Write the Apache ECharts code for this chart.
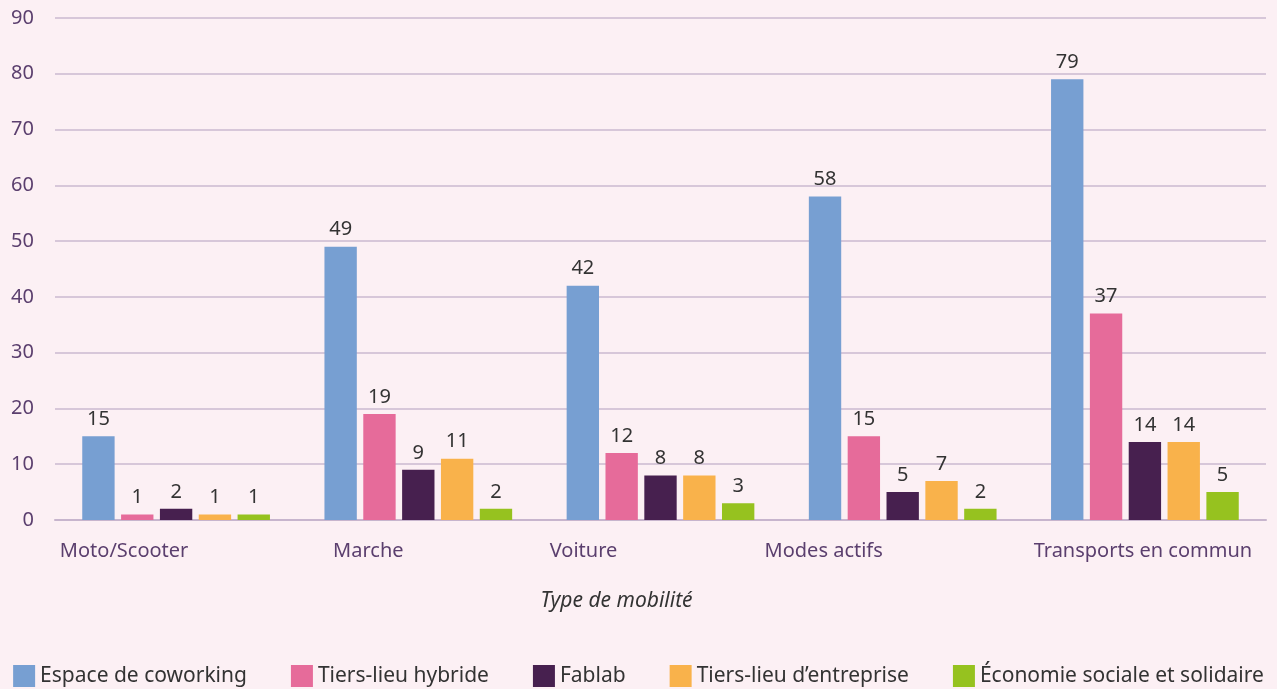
<!DOCTYPE html>
<html>
<head>
<meta charset="utf-8">
<script src="https://cdn.jsdelivr.net/npm/echarts@6/dist/echarts.min.js"></script>
<style>
html,body{margin:0;padding:0;background:#fcf0f4;}
#chart{width:1277px;height:689px;}
</style>
</head>
<body>
<div id="chart"></div>
<script>
const categories = ['Moto/Scooter', 'Marche', 'Voiture', 'Modes actifs', 'Transports en commun'];
const seriesNames = ['Espace de coworking', 'Tiers-lieu hybride', 'Fablab', 'Tiers-lieu d\u2019entreprise', '\u00c9conomie sociale et solidaire'];
const coworking = [15, 49, 42, 58, 79];
const hybride = [1, 19, 12, 15, 37];
const fablab = [2, 9, 8, 5, 14];
const entreprise = [1, 11, 8, 7, 14];
const ess = [1, 2, 3, 2, 5];
const yTicks = [0, 10, 20, 30, 40, 50, 60, 70, 80, 90];

const colors = ['#779fd2', '#e66b9a', '#47204f', '#f9b24b', '#96c21f'];
const allValues = [coworking, hybride, fablab, entreprise, ess];
// horizontal shift of each category label (style only)
const labelShift = { 'Moto/Scooter': -52, 'Marche': -50, 'Voiture': -77, 'Modes actifs': -79, 'Transports en commun': -2 };
const FONT = 'Noto Sans';

const chart = echarts.init(document.getElementById('chart'), null, { renderer: 'canvas' });
const option = {
  backgroundColor: '#fcf0f4',
  textStyle: { fontFamily: FONT },
  grid: { left: 55, right: 11, top: 18, bottom: 169, containLabel: false },
  legend: {
    bottom: -3,
    left: 'center',
    itemWidth: 22,
    itemHeight: 22,
    itemGap: 44,
    icon: 'rect',
    textStyle: { fontSize: 21, color: '#333', fontFamily: FONT },
    data: seriesNames
  },
  xAxis: {
    type: 'category',
    data: categories.map(c => {
      const s = labelShift[c] || 0;
      return { value: c, textStyle: { padding: s < 0 ? [0, -2 * s, 0, 0] : [0, 0, 0, 2 * s] } };
    }),
    axisLine: { lineStyle: { color: '#c7b5cd', width: 2 } },
    axisTick: { show: false },
    axisLabel: { color: '#5b3f6e', fontSize: 20, margin: 21, fontFamily: FONT, interval: 0, hideOverlap: false },
    name: 'Type de mobilit\u00e9',
    nameLocation: 'middle',
    nameGap: 71,
    nameTextStyle: { fontSize: 21, fontStyle: 'italic', color: '#333', fontFamily: FONT, padding: [0, 88, 0, 0] }
  },
  yAxis: {
    type: 'value',
    min: yTicks[0],
    max: yTicks[yTicks.length - 1],
    interval: yTicks[1] - yTicks[0],
    axisLine: { show: false },
    axisTick: { show: false },
    axisLabel: { color: '#5b3f6e', fontSize: 20, margin: 21, fontFamily: FONT },
    splitLine: { lineStyle: { color: '#cbbad0', width: 1.5 } }
  },
  series: seriesNames.map((name, i) => ({
    name: name,
    type: 'bar',
    data: allValues[i],
    itemStyle: { color: colors[i] },
    barCategoryGap: '22.5%',
    barGap: '20%',
    label: { show: true, position: 'top', distance: 7, fontSize: 20, color: '#333', fontFamily: FONT },
    emphasis: { disabled: true }
  })),
  animation: false
};
chart.setOption(option);
</script>
</body>
</html>
